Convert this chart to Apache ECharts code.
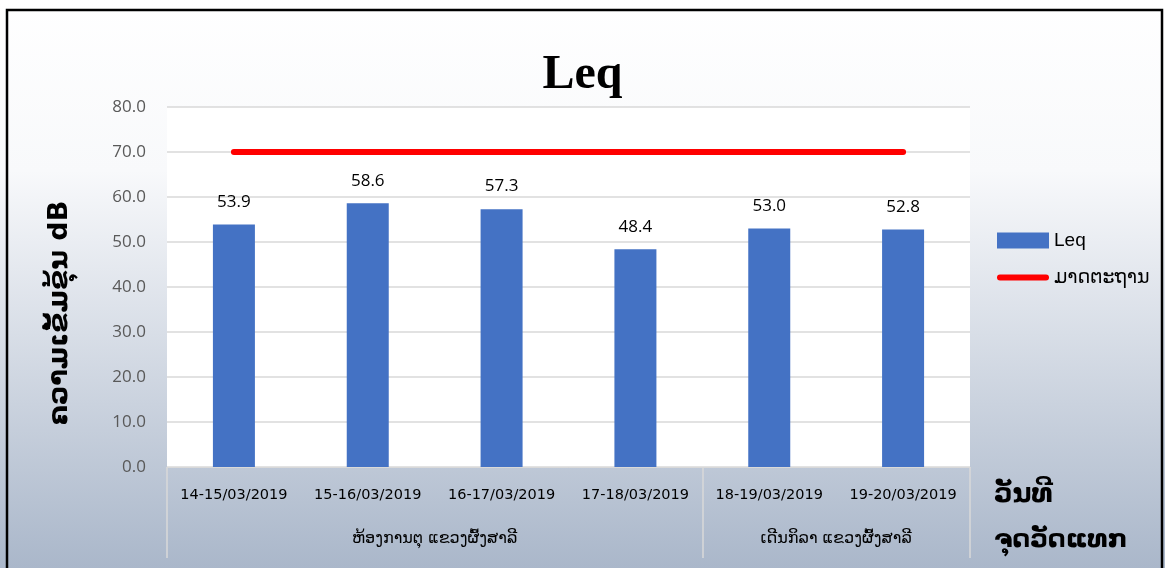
<!DOCTYPE html>
<html>
<head>
<meta charset="utf-8">
<script src="https://cdn.jsdelivr.net/npm/echarts@6/dist/echarts.min.js"></script>
<style>
  html, body { margin: 0; padding: 0; background: #ffffff; }
  #chart { width: 1165px; height: 568px; }
</style>
</head>
<body>
<div id="chart"></div>
<script>
// Measurement periods (first-level axis labels)
const categories = ['14-15/03/2019', '15-16/03/2019', '16-17/03/2019', '17-18/03/2019', '18-19/03/2019', '19-20/03/2019'];
// Measured Leq per period, dB
const leqValues = [53.9, 58.6, 57.3, 48.4, 53.0, 52.8];
// Standard limit line, dB
const standardValues = [70, 70, 70, 70, 70, 70];
// Measurement sites (second-level axis labels): name, first index, count
const siteNames = ['ຫ້ອງການຕຸ ແຂວງຜົ້ງສາລີ', 'ເດີນກິລາ ແຂວງຜົ້ງສາລີ'];
const siteSpans = [[0, 4], [4, 2]];
// Y axis ticks
const yTicks = [0, 10, 20, 30, 40, 50, 60, 70, 80];

const LAO = "'DejaVu Sans', 'Noto Sans', sans-serif";

// Group label positions and boundary positions on a 0..n value scale
const siteCenters = siteSpans.map(s => s[0] + s[1] / 2);
const siteBounds = [0].concat(siteSpans.map(s => s[0] + s[1]));

const chart = echarts.init(document.getElementById('chart'), null, { renderer: 'canvas' });

chart.setOption({
  animation: false,
  backgroundColor: {
    type: 'linear', x: 0, y: 0, x2: 0, y2: 1,
    colorStops: [
      { offset: 0, color: '#ffffff' },
      { offset: 0.3, color: '#f8f9fb' },
      { offset: 1, color: '#aab7ca' }
    ]
  },
  title: {
    text: 'Leq',
    left: 'center',
    top: 47,
    textStyle: { fontFamily: "'Liberation Serif', serif", fontWeight: 'bold', fontSize: 48, color: '#000' }
  },
  legend: {
    orient: 'vertical',
    left: 997,
    top: 231,
    padding: 0,
    itemGap: 18,
    itemWidth: 52,
    itemHeight: 16,
    textStyle: { fontFamily: "'Liberation Sans', 'DejaVu Sans', sans-serif", fontSize: 19, color: '#000' },
    data: [
      { name: 'Leq', icon: 'rect' },
      { name: 'ມາດຕະຖານ', icon: 'path://M3,0 L49,0 A3,3 0 0 1 49,6 L3,6 A3,3 0 0 1 3,0 Z' }
    ]
  },
  grid: {
    left: 167, right: 195, top: 107, bottom: 101,
    show: true, backgroundColor: '#ffffff', borderWidth: 0
  },
  xAxis: [
    {
      type: 'category',
      data: categories,
      position: 'bottom',
      axisLine: { lineStyle: { color: '#d9d9d9', width: 1 } },
      axisTick: { show: false },
      axisLabel: { interval: 0, margin: 21, fontFamily: "'DejaVu Sans', sans-serif", fontSize: 14.5, color: '#000' }
    },
    {
      type: 'value',
      min: 0,
      max: categories.length,
      position: 'bottom',
      axisLine: { show: false },
      splitLine: { show: false },
      axisTick: {
        show: true, inside: false, length: 91,
        customValues: siteBounds,
        lineStyle: { color: '#d9d9d9', width: 1.5 }
      },
      axisLabel: {
        customValues: siteCenters,
        margin: 64,
        fontFamily: LAO, fontSize: 16, color: '#000',
        formatter: v => siteNames[siteCenters.indexOf(v)] || ''
      }
    }
  ],
  yAxis: {
    type: 'value',
    min: yTicks[0],
    max: yTicks[yTicks.length - 1],
    interval: yTicks[1] - yTicks[0],
    axisLine: { show: false },
    axisTick: { show: false },
    splitLine: { lineStyle: { color: '#d9d9d9', width: 1.5 } },
    axisLabel: {
      margin: 21,
      fontFamily: "'Open Sans', sans-serif", fontSize: 17, color: '#595959',
      formatter: v => v.toFixed(1)
    }
  },
  series: [
    {
      name: 'Leq',
      type: 'bar',
      xAxisIndex: 0,
      data: leqValues,
      barWidth: 42,
      itemStyle: { color: '#4472c4' },
      label: {
        show: true, position: 'top', distance: 14,
        fontFamily: "'Open Sans', sans-serif", fontSize: 17, color: '#000',
        formatter: p => p.value.toFixed(1)
      },
      z: 2
    },
    {
      name: 'ມາດຕະຖານ',
      type: 'line',
      xAxisIndex: 0,
      data: standardValues,
      symbol: 'none',
      lineStyle: { color: '#ff0000', width: 6, cap: 'round' },
      itemStyle: { color: '#ff0000' },
      z: 3
    }
  ],
  graphic: [
    {
      type: 'rect',
      shape: { x: 7, y: 10, width: 1155, height: 600 },
      style: { fill: 'none', stroke: '#000', lineWidth: 2.5 },
      silent: true, z: 100
    },
    {
      type: 'text', x: 60, y: 313, rotation: Math.PI / 2,
      style: {
        text: 'ຄວາມເຂັ້ມຂຸ້ນ dB', align: 'center', verticalAlign: 'middle',
        fontFamily: LAO, fontWeight: 'bold', fontSize: 27, fill: '#000'
      }
    },
    {
      type: 'text', left: 994, top: 482,
      style: { text: 'ວັນທີ', fontFamily: LAO, fontWeight: 'bold', fontSize: 26, fill: '#000' }
    },
    {
      type: 'text', left: 994, top: 528,
      style: { text: 'ຈຸດວັດແທກ', fontFamily: LAO, fontWeight: 'bold', fontSize: 25, fill: '#000' }
    }
  ]
});
</script>
</body>
</html>
